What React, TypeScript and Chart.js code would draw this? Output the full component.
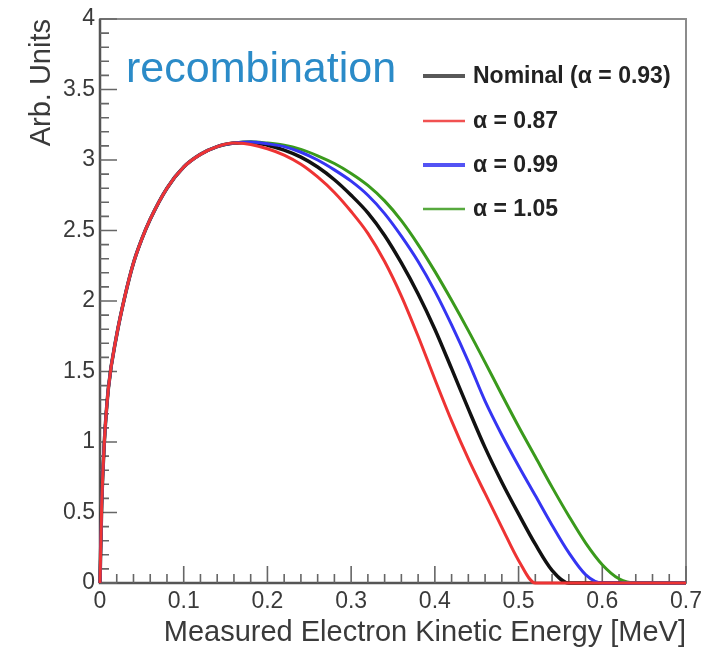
import React, { useEffect, useRef } from "react";
import { Chart, registerables } from "chart.js";

Chart.register(...registerables);

// ---- data ----
const energy = [
  0, 0.002, 0.005, 0.01, 0.02, 0.03, 0.04, 0.05, 0.06, 0.08, 0.1, 0.12, 0.14, 0.16, 0.18,
  0.2, 0.22, 0.24, 0.26, 0.28, 0.3, 0.32, 0.34, 0.36, 0.38, 0.4, 0.42, 0.44, 0.46, 0.48,
  0.5, 0.52, 0.54, 0.56, 0.58, 0.6, 0.62, 0.64, 0.66, 0.68, 0.7,
];

const nominal093 = [
  0, 0.55, 0.98, 1.38, 1.76, 2.04, 2.27, 2.44, 2.58, 2.8, 2.95, 3.04, 3.095, 3.12, 3.125,
  3.105, 3.07, 3.02, 2.95, 2.86, 2.75, 2.625, 2.465, 2.27, 2.05, 1.8, 1.52, 1.235, 0.96, 0.715,
  0.49, 0.275, 0.09, 0, 0, 0, 0, 0, 0, 0, 0,
];

const alpha087 = [
  0, 0.55, 0.98, 1.38, 1.76, 2.04, 2.27, 2.44, 2.58, 2.8, 2.95, 3.04, 3.095, 3.12, 3.11,
  3.08, 3.035, 2.97, 2.88, 2.77, 2.635, 2.48, 2.28, 2.035, 1.75, 1.445, 1.15, 0.88, 0.635, 0.395,
  0.16, 0, 0, 0, 0, 0, 0, 0, 0, 0, 0,
];

const alpha099 = [
  0, 0.55, 0.98, 1.38, 1.76, 2.04, 2.27, 2.44, 2.58, 2.8, 2.95, 3.04, 3.095, 3.12, 3.128,
  3.115, 3.095, 3.055, 3.0, 2.93, 2.85, 2.75, 2.62, 2.46, 2.28, 2.07, 1.83, 1.57, 1.29, 1.05,
  0.83, 0.62, 0.41, 0.215, 0.06, 0, 0, 0, 0, 0, 0,
];

const alpha105 = [
  0, 0.55, 0.98, 1.38, 1.76, 2.04, 2.27, 2.44, 2.58, 2.8, 2.95, 3.04, 3.095, 3.12, 3.13,
  3.12, 3.105, 3.075, 3.03, 2.975, 2.905, 2.82, 2.71, 2.57, 2.4, 2.21, 2.005, 1.79, 1.565, 1.335,
  1.11, 0.895, 0.68, 0.475, 0.285, 0.13, 0.03, 0, 0, 0, 0,
];

const seriesLabels = ["Nominal (\u03b1 = 0.93)", "\u03b1 = 0.87", "\u03b1 = 0.99", "\u03b1 = 1.05"];
const seriesColors = ["#111111", "#ee3333", "#3535f2", "#3a9a1c"];

const xTicks = [0, 0.1, 0.2, 0.3, 0.4, 0.5, 0.6, 0.7];
const xTickLabels = ["0", "0.1", "0.2", "0.3", "0.4", "0.5", "0.6", "0.7"];
const yTicks = [0, 0.5, 1, 1.5, 2, 2.5, 3, 3.5, 4];
const yTickLabels = ["0", "0.5", "1", "1.5", "2", "2.5", "3", "3.5", "4"];

const xTitle = "Measured Electron Kinetic Energy [MeV]";
const yTitle = "Arb. Units";
const annotation = "recombination";

const FONT = "'Liberation Sans', Arial, Helvetica, sans-serif";

const toPoints = (ys: number[]) => energy.map((e, i) => ({ x: e, y: ys[i] }));

const framePlugin = {
  id: "rootFrame",
  beforeDatasetsDraw(chart: any) {
    const { ctx, chartArea: a, scales } = chart;
    const x = scales.x;
    const y = scales.y;
    ctx.save();
    // frame
    ctx.strokeStyle = "#8c8c8c";
    ctx.lineWidth = 2;
    ctx.strokeRect(a.left, a.top, a.right - a.left, a.bottom - a.top);
    // axes
    ctx.strokeStyle = "#555";
    ctx.lineWidth = 2.5;
    ctx.beginPath();
    ctx.moveTo(a.left, a.top);
    ctx.lineTo(a.left, a.bottom);
    ctx.lineTo(a.right, a.bottom);
    ctx.stroke();
    // ticks (inside)
    ctx.strokeStyle = "#666";
    ctx.lineWidth = 1.6;
    ctx.beginPath();
    for (let i = 0; i <= 40; i++) {
      const py = y.getPixelForValue(i / 10);
      const len = i % 5 === 0 ? 17 : 9;
      ctx.moveTo(a.left, py);
      ctx.lineTo(a.left + len, py);
    }
    for (let i = 0; i <= 35; i++) {
      const px = x.getPixelForValue(i * 0.02);
      const len = i % 5 === 0 ? 17 : 9;
      ctx.moveTo(px, a.bottom);
      ctx.lineTo(px, a.bottom - len);
    }
    ctx.stroke();
    ctx.restore();
  },
  afterDatasetsDraw(chart: any) {
    const { ctx } = chart;
    ctx.save();
    // annotation text
    ctx.fillStyle = "#2b8bc8";
    ctx.font = `43px ${FONT}`;
    ctx.textAlign = "left";
    ctx.textBaseline = "alphabetic";
    ctx.fillText(annotation, 126, 82);
    // legend
    const order = [3, 0, 1, 2];
    const widths = [4, 2.5, 4, 2.5];
    const rowY = [76, 121, 165, 209];
    order.forEach((di, r) => {
      const ds = chart.data.datasets[di];
      ctx.strokeStyle = ds.borderColor;
      ctx.globalAlpha = di === 3 ? 0.7 : 0.85;
      ctx.lineWidth = widths[r];
      ctx.beginPath();
      ctx.moveTo(423, rowY[r]);
      ctx.lineTo(465, rowY[r]);
      ctx.stroke();
      ctx.globalAlpha = 1;
      ctx.fillStyle = "#222";
      ctx.font = `bold 23px ${FONT}`;
      ctx.textBaseline = "middle";
      ctx.fillText(ds.label, 473, rowY[r] + 1);
    });
    ctx.restore();
  },
};

export default function App() {
  const ref = useRef<HTMLCanvasElement | null>(null);

  useEffect(() => {
    if (!ref.current) return;
    const tickFont = { family: FONT, size: 23 };
    const chart = new Chart(ref.current, {
      type: "line",
      data: {
        datasets: [
          { label: seriesLabels[1], data: toPoints(alpha087), borderColor: seriesColors[1], borderWidth: 3 },
          { label: seriesLabels[2], data: toPoints(alpha099), borderColor: seriesColors[2], borderWidth: 3 },
          { label: seriesLabels[3], data: toPoints(alpha105), borderColor: seriesColors[3], borderWidth: 3 },
          { label: seriesLabels[0], data: toPoints(nominal093), borderColor: seriesColors[0], borderWidth: 3.5 },
        ].map((d) => ({
          ...d,
          pointRadius: 0,
          fill: false,
          cubicInterpolationMode: "monotone" as const,
          clip: 4,
        })),
      },
      options: {
        responsive: false,
        animation: false,
        events: [],
        layout: { padding: { top: 19, right: 37, left: 0, bottom: 0 } },
        scales: {
          x: {
            type: "linear",
            min: 0,
            max: 0.7,
            afterFit: (s: any) => {
              s.height = 65;
            },
            afterBuildTicks: (s: any) => {
              s.ticks = xTicks.map((v) => ({ value: v }));
            },
            ticks: {
              callback: (_v: any, i: number) => xTickLabels[i],
              font: tickFont,
              color: "#3a3a3a",
              padding: 5,
              maxRotation: 0,
              autoSkip: false,
            },
            grid: { display: false, drawTicks: false },
            border: { display: false },
            title: {
              display: true,
              text: xTitle,
              align: "end",
              color: "#3a3a3a",
              font: { family: FONT, size: 29, lineHeight: 1 },
              padding: { top: 0, bottom: 1 },
            },
          },
          y: {
            type: "linear",
            min: 0,
            max: 4,
            afterFit: (s: any) => {
              s.width = 100;
            },
            afterBuildTicks: (s: any) => {
              s.ticks = yTicks.map((v) => ({ value: v }));
            },
            ticks: {
              callback: (_v: any, i: number) => yTickLabels[i],
              font: tickFont,
              color: "#3a3a3a",
              padding: 5,
              autoSkip: false,
            },
            grid: { display: false, drawTicks: false },
            border: { display: false },
            title: {
              display: true,
              text: yTitle,
              align: "end",
              color: "#3a3a3a",
              font: { family: FONT, size: 29, lineHeight: 1 },
              padding: { top: 27, bottom: 0 },
            },
          },
        },
        plugins: {
          legend: { display: false },
          tooltip: { enabled: false },
        },
      },
      plugins: [framePlugin],
    } as any);
    return () => chart.destroy();
  }, []);

  return (
    <div style={{ position: "absolute", left: 0, top: 0, width: 723, height: 648, background: "#fff" }}>
      <canvas ref={ref} width={723} height={648} style={{ width: 723, height: 648, display: "block" }} />
    </div>
  );
}
